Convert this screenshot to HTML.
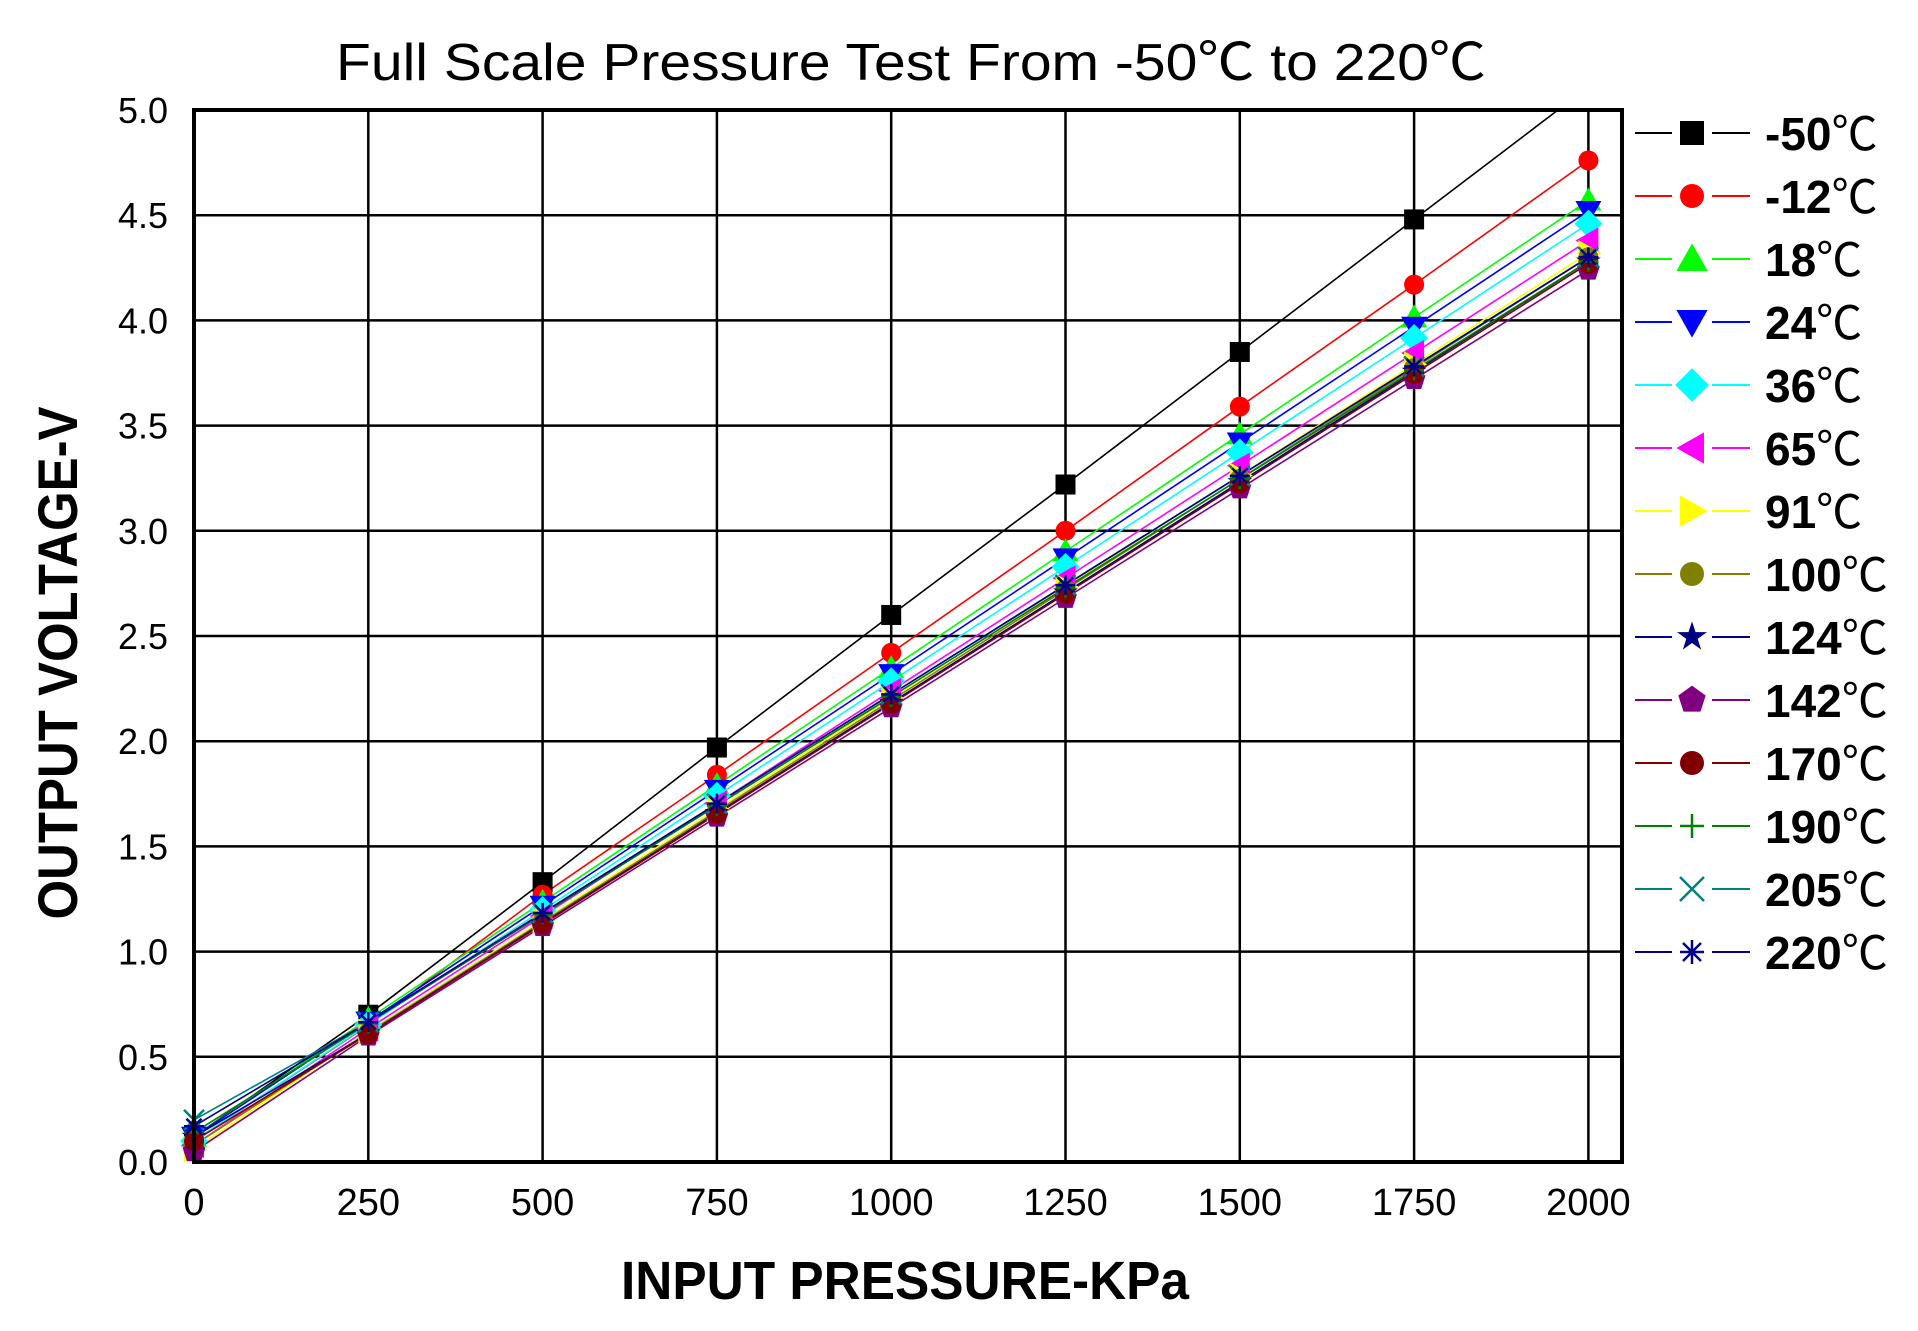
<!DOCTYPE html>
<html><head><meta charset="utf-8"><style>
html,body{margin:0;padding:0;background:#fff;}
svg{display:block}
</style></head><body>
<svg id="s" width="1918" height="1331" xmlns="http://www.w3.org/2000/svg">
<defs><clipPath id="cp"><rect x="194" y="110" width="1428" height="1052"/></clipPath></defs>
<rect width="1918" height="1331" fill="#fff"/>
<g id="grid"></g>
<g id="lines" clip-path="url(#cp)"></g>
<g id="marks"></g>
<rect x="194" y="110" width="1428" height="1052" fill="none" stroke="#000" stroke-width="4"/>
<text x="911" y="80" font-family="Liberation Sans, Noto Sans CJK SC, sans-serif" font-size="52" text-anchor="middle" textLength="1150" lengthAdjust="spacingAndGlyphs">Full Scale Pressure Test From -50℃  to 220℃</text>
<text x="905" y="1299" font-family="Liberation Sans, sans-serif" font-weight="bold" font-size="54" text-anchor="middle" textLength="568" lengthAdjust="spacingAndGlyphs">INPUT PRESSURE-KPa</text>
<text transform="translate(77,663) rotate(-90)" font-family="Liberation Sans, sans-serif" font-weight="bold" font-size="56" text-anchor="middle" textLength="513" lengthAdjust="spacingAndGlyphs">OUTPUT VOLTAGE-V</text>
<g id="ticks" font-family="Liberation Sans, sans-serif" fill="#000"></g>
<g id="legend"></g>
</svg>
<script>
var NS="http://www.w3.org/2000/svg";
function el(p,t,a,txt){var e=document.createElementNS(NS,t);for(var k in a)e.setAttribute(k,a[k]);if(txt!=null)e.textContent=txt;document.getElementById(p).appendChild(e);return e;}
var X0=194,XS=174.3/250,Y0=1162,YS=210.4;
function px(x){return X0+x*XS;} function py(v){return Y0-v*YS;}
for(var i=1;i<=8;i++){var x=px(i*250);el("grid","line",{x1:x,y1:110,x2:x,y2:1162,stroke:"#000","stroke-width":2.5});}
for(var j=1;j<10;j++){var y=py(j*0.5);el("grid","line",{x1:194,y1:y,x2:1622,y2:y,stroke:"#000","stroke-width":2.5});}
for(var i=0;i<=8;i++){el("ticks","text",{x:px(i*250),y:1215,"font-size":38,"text-anchor":"middle"},String(i*250));}
for(var j=0;j<=10;j++){el("ticks","text",{x:168,y:py(j*0.5)+13,"font-size":36,"text-anchor":"end"},(j*0.5).toFixed(1));}
var S=[
["-50","#000","sq",0.1,[0.12,0.7,1.33,1.97,2.6,3.22,3.85,4.48,5.11]],
["-12","#f00","circ",0.1,[0.1,0.65,1.27,1.84,2.42,3.0,3.59,4.17,4.76]],
["18","#0f0","tri",0.12,null,4.57],
["24","#00f","itri",0.12,null,4.52],
["36","#0ff","dia",0.1,null,4.46],
["65","#f0f","ltri",0.08,null,4.38],
["91","#ff0","rtri",0.06,null,4.32],
["100","#808000","oct",0.08,null,4.30],
["124","#000080","star",0.12,null,4.28],
["142","#800080","pent",0.05,null,4.24],
["170","#800000","oct",0.1,null,4.27],
["190","#008000","plus",0.14,null,4.28],
["205","#008080","x",0.2,null,4.30],
["220","#00008b","ast",0.17,null,4.30]];
function marker(g,type,cx,cy,c,r){
 r=r||12;
 if(type=="sq")el(g,"rect",{x:cx-r,y:cy-r,width:2*r,height:2*r,fill:c});
 else if(type=="circ"||type=="oct")el(g,"circle",{cx:cx,cy:cy,r:r,fill:c});
 else if(type=="tri")el(g,"polygon",{points:(cx)+","+(cy-r*1.3)+" "+(cx-r*1.3)+","+(cy+r)+" "+(cx+r*1.3)+","+(cy+r),fill:c});
 else if(type=="itri")el(g,"polygon",{points:(cx)+","+(cy+r*1.3)+" "+(cx-r*1.3)+","+(cy-r)+" "+(cx+r*1.3)+","+(cy-r),fill:c});
 else if(type=="ltri")el(g,"polygon",{points:(cx-r*1.3)+","+cy+" "+(cx+r)+","+(cy-r*1.3)+" "+(cx+r)+","+(cy+r*1.3),fill:c});
 else if(type=="rtri")el(g,"polygon",{points:(cx+r*1.3)+","+cy+" "+(cx-r)+","+(cy-r*1.3)+" "+(cx-r)+","+(cy+r*1.3),fill:c});
 else if(type=="dia")el(g,"polygon",{points:cx+","+(cy-r*1.4)+" "+(cx+r*1.4)+","+cy+" "+cx+","+(cy+r*1.4)+" "+(cx-r*1.4)+","+cy,fill:c});
 else if(type=="pent"){var pts=[];for(var k=0;k<5;k++){var a=-Math.PI/2+k*2*Math.PI/5;pts.push((cx+r*1.2*Math.cos(a))+","+(cy+r*1.2*Math.sin(a)));}el(g,"polygon",{points:pts.join(" "),fill:c});}
 else if(type=="star"){var pts=[];for(var k=0;k<10;k++){var a=-Math.PI/2+k*Math.PI/5,rr=k%2?r*0.5:r*1.3;pts.push((cx+rr*Math.cos(a))+","+(cy+rr*Math.sin(a)));}el(g,"polygon",{points:pts.join(" "),fill:c});}
 else if(type=="plus"){el(g,"path",{d:"M"+(cx-r)+","+cy+"H"+(cx+r)+"M"+cx+","+(cy-r)+"V"+(cy+r),stroke:c,"stroke-width":2.5,fill:"none"});}
 else if(type=="x"){el(g,"path",{d:"M"+(cx-r)+","+(cy-r)+"L"+(cx+r)+","+(cy+r)+"M"+(cx+r)+","+(cy-r)+"L"+(cx-r)+","+(cy+r),stroke:c,"stroke-width":2.5,fill:"none"});}
 else if(type=="ast"){el(g,"path",{d:"M"+(cx-r)+","+cy+"H"+(cx+r)+"M"+cx+","+(cy-r)+"V"+(cy+r)+"M"+(cx-r*.75)+","+(cy-r*.75)+"L"+(cx+r*.75)+","+(cy+r*.75)+"M"+(cx+r*.75)+","+(cy-r*.75)+"L"+(cx-r*.75)+","+(cy+r*.75),stroke:c,"stroke-width":2.5,fill:"none"});}
}
S.forEach(function(s,idx){
 var v=s[4];
 if(!v){v=[s[3]];var e=s[5];var p=0.6+(e-4.24)/(4.57-4.24)*0.08;
  if(s[0]=="205"||s[0]=="220"||s[0]=="190")p+=0.05;
  for(var i=1;i<=8;i++)v.push(p+(e-p)*(i-1)/7);}
 var d="";for(var i=0;i<=8;i++)d+=(i?"L":"M")+px(i*250)+","+py(v[i]);
 el("lines","path",{d:d,stroke:s[1],"stroke-width":1.6,fill:"none"});
 for(var i=0;i<=8;i++){if(v[i]<=5.0)marker("marks",s[2],px(i*250),py(v[i]),s[1],10);}
 var ly=133+idx*63;
 el("legend","line",{x1:1635,y1:ly,x2:1672,y2:ly,stroke:s[1],"stroke-width":2});
 el("legend","line",{x1:1712,y1:ly,x2:1750,y2:ly,stroke:s[1],"stroke-width":2});
 marker("legend",s[2],1692,ly,s[1],12);
 var t=el("legend","text",{x:1765,y:ly+17,"font-size":46,"font-family":"Liberation Sans, Noto Sans CJK SC, sans-serif"});
 var b=document.createElementNS(NS,"tspan");b.setAttribute("font-weight","bold");b.textContent=s[0];t.appendChild(b);
 var c=document.createElementNS(NS,"tspan");c.setAttribute("font-weight","normal");c.textContent="℃";t.appendChild(c);
});
</script>
</body></html>
